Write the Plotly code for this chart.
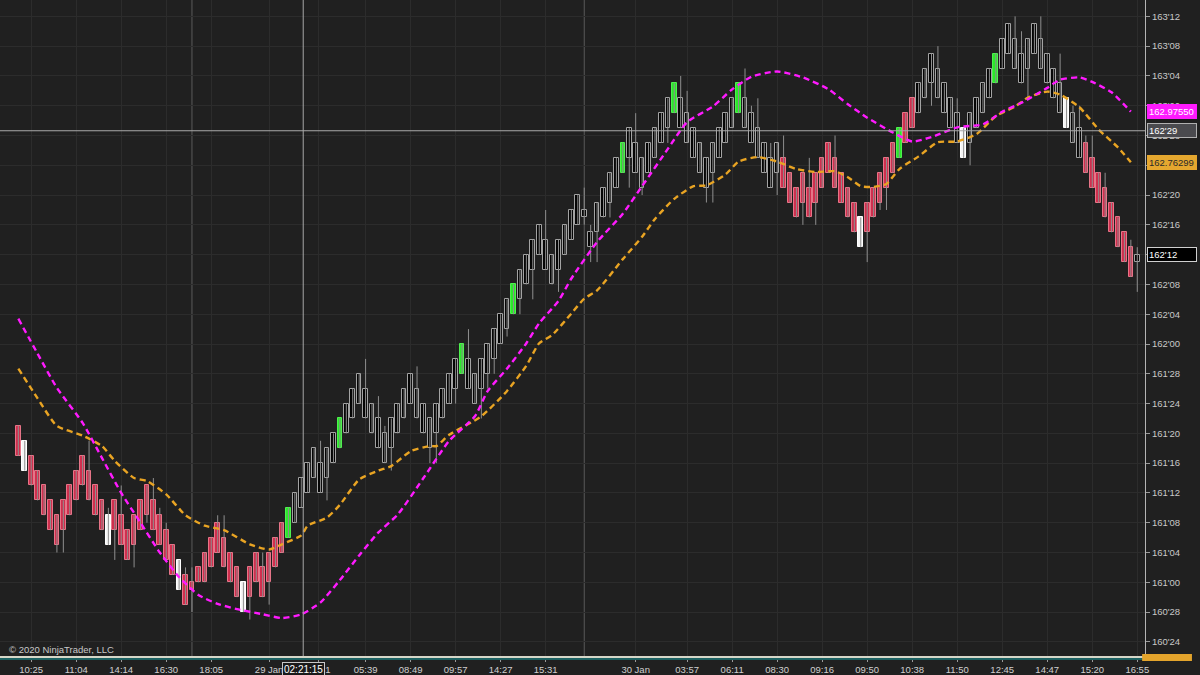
import plotly.graph_objects as go

# ---------------- data (prices in 32nds of a point) ----------------
body_top_32 = [
    5173, 5171, 5169, 5167, 5165, 5163, 5161, 5163, 5165, 5167,
    5169, 5167, 5165, 5163, 5161, 5163, 5161, 5159, 5161, 5163,
    5165, 5163, 5161, 5159, 5157, 5155, 5153, 5152, 5154, 5156,
    5158, 5160, 5158, 5156, 5154, 5152, 5154, 5156, 5154, 5156,
    5158, 5160, 5162, 5164, 5166, 5168, 5170, 5168, 5170, 5172,
    5174, 5176, 5178, 5180, 5178, 5176, 5174, 5172, 5174, 5176,
    5178, 5180, 5178, 5176, 5174, 5176, 5178, 5180, 5182, 5184,
    5182, 5180, 5182, 5184, 5186, 5188, 5190, 5192, 5194, 5196,
    5198, 5200, 5198, 5196, 5198, 5200, 5202, 5204, 5202, 5199,
    5203, 5205, 5207, 5209, 5211, 5213, 5211, 5209, 5211, 5213,
    5215, 5217, 5219, 5217, 5215, 5213, 5211, 5209, 5211, 5213,
    5215, 5217, 5219, 5217, 5215, 5213, 5211, 5209, 5211, 5209,
    5207, 5205, 5207, 5205, 5207, 5209, 5211, 5209, 5207, 5205,
    5203, 5201, 5203, 5205, 5207, 5209, 5211, 5213, 5215, 5217,
    5219, 5221, 5223, 5221, 5219, 5217, 5215, 5213, 5215, 5217,
    5219, 5221, 5223, 5225, 5227, 5225, 5223, 5225, 5227, 5225,
    5223, 5221, 5219, 5217, 5215, 5213, 5211, 5209, 5207, 5205,
    5203, 5201, 5199, 5197, 5196,
]
body_bottom_32 = [
    5169, 5167, 5165, 5163, 5161, 5159, 5157, 5159, 5161, 5163,
    5165, 5163, 5161, 5159, 5157, 5159, 5157, 5155, 5157, 5159,
    5161, 5159, 5157, 5155, 5153, 5151, 5149, 5151, 5152, 5152,
    5154, 5156, 5154, 5152, 5150, 5148, 5150, 5152, 5150, 5152,
    5154, 5156, 5158, 5160, 5162, 5164, 5166, 5164, 5166, 5168,
    5170, 5172, 5174, 5176, 5174, 5172, 5170, 5168, 5170, 5172,
    5174, 5176, 5174, 5172, 5170, 5172, 5174, 5176, 5178, 5180,
    5178, 5176, 5178, 5180, 5182, 5184, 5186, 5188, 5190, 5192,
    5194, 5196, 5194, 5192, 5194, 5196, 5198, 5200, 5201, 5197,
    5199, 5201, 5203, 5205, 5207, 5209, 5207, 5205, 5207, 5209,
    5211, 5213, 5215, 5213, 5211, 5209, 5207, 5205, 5207, 5209,
    5211, 5213, 5215, 5213, 5211, 5209, 5207, 5205, 5207, 5205,
    5203, 5201, 5203, 5201, 5203, 5205, 5207, 5205, 5203, 5201,
    5199, 5197, 5199, 5201, 5203, 5205, 5207, 5209, 5211, 5213,
    5215, 5217, 5219, 5217, 5215, 5213, 5211, 5209, 5211, 5213,
    5215, 5217, 5219, 5221, 5223, 5221, 5219, 5221, 5223, 5221,
    5219, 5217, 5215, 5213, 5211, 5209, 5207, 5205, 5203, 5201,
    5199, 5197, 5195, 5193, 5195,
]
high_32 = [
    5173, 5171, 5169, 5167, 5165, 5163, 5161, 5163, 5165, 5167,
    5169, 5171, 5165, 5163, 5162, 5163, 5165, 5159, 5161, 5163,
    5165, 5166, 5162, 5160, 5157, 5155, 5154, 5154, 5154, 5156,
    5158, 5161, 5161, 5156, 5154, 5152, 5154, 5156, 5156, 5156,
    5158, 5160, 5162, 5164, 5166, 5168, 5170, 5171, 5170, 5172,
    5174, 5176, 5178, 5180, 5182, 5176, 5177, 5173, 5174, 5176,
    5178, 5180, 5181, 5176, 5174, 5176, 5178, 5180, 5182, 5184,
    5186, 5180, 5182, 5184, 5186, 5188, 5190, 5192, 5194, 5196,
    5198, 5200, 5202, 5196, 5198, 5200, 5202, 5204, 5205, 5200,
    5203, 5205, 5207, 5209, 5211, 5213, 5215, 5209, 5211, 5213,
    5215, 5217, 5219, 5220, 5218, 5213, 5211, 5209, 5211, 5213,
    5215, 5217, 5219, 5221, 5216, 5217, 5211, 5211, 5211, 5212,
    5207, 5205, 5207, 5209, 5207, 5209, 5211, 5212, 5207, 5205,
    5203, 5201, 5203, 5205, 5207, 5209, 5211, 5213, 5215, 5217,
    5219, 5221, 5223, 5224, 5219, 5217, 5217, 5213, 5215, 5217,
    5219, 5221, 5223, 5225, 5227, 5228, 5226, 5225, 5227, 5228,
    5223, 5221, 5223, 5217, 5216, 5216, 5212, 5212, 5207, 5207,
    5203, 5201, 5199, 5198, 5197,
]
low_32 = [
    5169, 5167, 5165, 5163, 5161, 5159, 5156, 5156, 5161, 5163,
    5165, 5163, 5161, 5159, 5157, 5155, 5157, 5155, 5154, 5159,
    5160, 5159, 5157, 5155, 5153, 5151, 5149, 5148, 5152, 5152,
    5154, 5156, 5154, 5152, 5150, 5148, 5147, 5152, 5150, 5149,
    5154, 5156, 5158, 5160, 5162, 5164, 5166, 5164, 5163, 5168,
    5170, 5172, 5174, 5176, 5174, 5172, 5170, 5168, 5167, 5172,
    5174, 5176, 5174, 5172, 5168, 5168, 5174, 5176, 5176, 5180,
    5178, 5176, 5174, 5178, 5180, 5184, 5185, 5188, 5188, 5192,
    5190, 5196, 5194, 5192, 5191, 5196, 5198, 5200, 5200, 5195,
    5195, 5201, 5201, 5205, 5207, 5205, 5207, 5204, 5207, 5209,
    5211, 5211, 5215, 5213, 5211, 5209, 5207, 5203, 5203, 5209,
    5211, 5213, 5215, 5213, 5211, 5209, 5207, 5205, 5204, 5205,
    5203, 5201, 5200, 5201, 5200, 5205, 5207, 5205, 5203, 5201,
    5199, 5197, 5195, 5201, 5202, 5202, 5207, 5209, 5211, 5213,
    5215, 5217, 5216, 5217, 5215, 5213, 5211, 5209, 5208, 5213,
    5215, 5217, 5219, 5221, 5223, 5221, 5219, 5217, 5223, 5221,
    5219, 5217, 5215, 5213, 5211, 5209, 5207, 5205, 5203, 5201,
    5199, 5197, 5195, 5193, 5191,
]
# bar paint state: R = bearish trend, H = bullish trend (hollow), G = buy signal, W = sell signal
bar_state_runs = [
    ("R", 1), ("W", 1), ("R", 12), ("W", 1), ("R", 10), ("W", 1), ("R", 9), ("W", 1),
    ("R", 6), ("G", 1), ("H", 7), ("G", 1), ("H", 18), ("G", 1), ("H", 7), ("G", 1),
    ("H", 16), ("G", 1), ("H", 7), ("G", 1), ("H", 9), ("G", 1), ("H", 6), ("R", 12),
    ("W", 1), ("R", 5), ("G", 1), ("R", 2), ("H", 7), ("W", 1), ("H", 4), ("G", 1),
    ("H", 10), ("W", 1), ("H", 2), ("R", 8), ("H", 1),
]

magenta_idx = [0, 3, 6, 10, 13, 16, 19, 22, 25, 28, 31, 34, 38, 41, 44, 47, 50, 53, 56, 59,
               63, 67, 71, 73, 76, 79, 81, 84, 86, 90, 94, 97, 101, 104, 108, 111, 114, 118,
               122, 126, 129, 132, 136, 139, 142, 146, 150, 153, 156, 160, 162, 165, 167, 170, 173]
magenta_32 = [5187.4, 5182.7, 5178.1, 5173.4, 5168.7, 5164.0, 5160.0, 5156.0, 5152.7, 5150.3,
              5149.1, 5148.4, 5147.7, 5147.2, 5147.7, 5149.3, 5152.3, 5155.6, 5158.7, 5161.1,
              5166.0, 5171.0, 5174.3, 5177.7, 5180.7, 5184.1, 5186.8, 5189.8, 5192.8, 5197.7,
              5201.5, 5205.2, 5210.2, 5213.8, 5215.9, 5218.2, 5219.9, 5220.6, 5219.8, 5218.2,
              5216.2, 5214.4, 5212.4, 5211.2, 5211.8, 5213.1, 5213.5, 5215.2, 5216.4, 5218.4,
              5219.5, 5219.8, 5219.2, 5217.8, 5215.2]
orange_idx = [0, 3, 6, 10, 13, 15, 18, 20, 23, 26, 29, 32, 36, 39, 41, 44, 45, 48, 50, 53,
              56, 58, 61, 64, 65, 67, 72, 76, 79, 81, 83, 86, 88, 90, 94, 97, 99, 102, 105, 107,
              110, 112, 115, 118, 121, 124, 127, 129, 131, 133, 135, 137, 140, 143, 146, 149,
              152, 155, 157, 160, 162, 165, 168, 171, 173]
orange_32 = [5180.7, 5176.7, 5173.0, 5171.7, 5170.3, 5168.3, 5166.0, 5165.6, 5163.8, 5161.0,
             5159.6, 5159.0, 5157.1, 5156.4, 5157.1, 5158.3, 5159.6, 5160.7, 5162.4, 5165.8,
             5167.0, 5167.6, 5169.6, 5170.3, 5170.3, 5171.8, 5174.3, 5177.7, 5181.1, 5184.1,
             5185.2, 5188.1, 5190.1, 5191.2, 5195.4, 5198.4, 5200.8, 5203.5, 5205.2, 5205.3,
             5206.8, 5208.5, 5209.1, 5208.5, 5207.5, 5207.1, 5207.2, 5206.4, 5205.2, 5205.1,
             5205.5, 5207.5, 5209.2, 5211.1, 5211.2, 5212.2, 5214.6, 5215.9, 5217.1, 5217.9,
             5217.5, 5215.8, 5212.8, 5210.4, 5208.4]

x_tick_idx = [2, 9, 16, 23, 30, 39, 46.7, 54, 61, 68, 75, 82, 96, 104, 111, 118, 125, 132,
              139, 146, 153, 160, 167, 174]
x_tick_labels = ["10:25", "11:04", "14:14", "16:30", "18:05", "29 Jan", "01:31", "05:39",
                 "08:49", "09:57", "14:27", "15:31", "30 Jan", "03:57", "06:11", "08:30",
                 "09:16", "09:50", "10:38", "11:50", "12:45", "14:47", "15:20", "16:55"]
y_tick_labels = ["160'24", "160'28", "161'00", "161'04", "161'08", "161'12", "161'16",
                 "161'20", "161'24", "161'28", "162'00", "162'04", "162'08", "162'12",
                 "162'16", "162'20", "162'24", "162'28", "163'00", "163'04", "163'08", "163'12"]

session_break_idx = [27, 88]
crosshair_idx = 44.3
crosshair_price = 162.895
crosshair_time = "02:21:15"
crosshair_price_label = "162'29"
magenta_last = 162.97550
orange_last = 162.76299
last_price_32 = 5196
last_price_label = "162'12"
copyright_text = "© 2020 NinjaTrader, LLC"

# ---------------- build ----------------
FONT = "Arial, Liberation Sans, sans-serif"
BG = "#202020"
n = len(body_top_32)
idx = list(range(n))
states = []
for s, c in bar_state_runs:
    states += [s] * c
states = (states + ["H"] * n)[:n]

fill_map = {"R": "#cf2f4e", "H": "#050505", "G": "#2be82b", "W": "#f5f5f5"}
line_map = {"R": "#e67588", "H": "#a3a3a3", "G": "#4ff04f", "W": "#ffffff"}

fig = go.Figure()

# wicks
wx, wy = [], []
for i in idx:
    wx += [i, i, None]
    wy += [low_32[i] / 32, high_32[i] / 32, None]
fig.add_trace(go.Scatter(x=wx, y=wy, mode="lines", line=dict(color="#8e8e8e", width=1),
                         hoverinfo="skip", showlegend=False))

# bodies
fig.add_trace(go.Bar(
    x=idx,
    y=[(t - b) / 32 for t, b in zip(body_top_32, body_bottom_32)],
    base=[b / 32 for b in body_bottom_32],
    width=0.72,
    marker=dict(color=[fill_map[s] for s in states],
                line=dict(color=[line_map[s] for s in states], width=1)),
    hoverinfo="skip", showlegend=False))

# moving averages
fig.add_trace(go.Scatter(x=orange_idx, y=[v / 32 for v in orange_32], mode="lines",
                         line=dict(color="#e9a423", width=2.4, dash="6px,4px", shape="spline", smoothing=0.6),
                         hoverinfo="skip", showlegend=False))
fig.add_trace(go.Scatter(x=magenta_idx, y=[v / 32 for v in magenta_32], mode="lines",
                         line=dict(color="#ff1aff", width=2.4, dash="6px,4px", shape="spline", smoothing=0.6),
                         hoverinfo="skip", showlegend=False))

def parse_32(lbl):
    a, b = lbl.split("'")
    return int(a) + int(b) / 32

y_tick_vals = [parse_32(l) for l in y_tick_labels]

shapes = []
for s in session_break_idx:
    shapes.append(dict(type="line", xref="x", yref="paper", x0=s, x1=s, y0=0, y1=1,
                       line=dict(color="#5a5a5a", width=1), layer="below"))
# crosshair
shapes.append(dict(type="line", xref="x", yref="paper", x0=crosshair_idx, x1=crosshair_idx,
                   y0=0, y1=1, line=dict(color="#a8a8a8", width=1)))
shapes.append(dict(type="line", xref="paper", yref="y", x0=0, x1=1, y0=crosshair_price,
                   y1=crosshair_price, line=dict(color="#a8a8a8", width=1)))
# scrollbar strip under axis
shapes.append(dict(type="line", xref="paper", yref="paper", x0=0, x1=1, y0=-0.0045, y1=-0.0045,
                   line=dict(color="#1d6262", width=2)))
shapes.append(dict(type="rect", xref="paper", yref="paper", x0=0.9975, x1=1.041, y0=-0.0076, y1=0.003,
                   fillcolor="#e3a42c", line=dict(width=0)))

annotations = []
def tag(y, text, bg, fg, border):
    annotations.append(dict(xref="paper", yref="y", x=1, y=y, xanchor="left", yanchor="middle",
                            xshift=2, text=text, showarrow=False, bgcolor=bg, bordercolor=border,
                            borderwidth=1, borderpad=1, width=46, align="left",
                            font=dict(family=FONT, size=9.5, color=fg)))

tag(magenta_last, f"{magenta_last:.5f}", "#ff1aff", "#ffffff", "#ff1aff")
tag(crosshair_price, crosshair_price_label, "#4a4a4e", "#ffffff", "#b0b0b0")
tag(orange_last, f"{orange_last:.5f}", "#e5a72f", "#2a2a2a", "#e5a72f")
tag(last_price_32 / 32, last_price_label, "#000000", "#ffffff", "#d0d0d0")

annotations.append(dict(xref="x", yref="paper", x=crosshair_idx, y=0, yanchor="top", yshift=-6,
                        text=crosshair_time, showarrow=False, bgcolor="#1a1a1a",
                        bordercolor="#c8c8c8", borderwidth=1, borderpad=1,
                        font=dict(family=FONT, size=10, color="#ffffff")))
annotations.append(dict(xref="paper", yref="paper", x=0, y=0, xanchor="left", yanchor="middle",
                        xshift=7, yshift=7, text=copyright_text, showarrow=False,
                        font=dict(family=FONT, size=9.5, color="#c8c8c8")))

fig.update_layout(
    width=1200, height=675,
    margin=dict(l=0, r=55, t=0, b=16),
    paper_bgcolor=BG, plot_bgcolor=BG,
    showlegend=False, bargap=0,
    font=dict(family=FONT, color="#d0d0d0", size=10),
    shapes=shapes, annotations=annotations,
    xaxis=dict(range=[-2.85, 175.2], tickmode="array", tickvals=x_tick_idx, ticktext=x_tick_labels,
               showgrid=True, gridcolor="#2c2c2c", gridwidth=1, zeroline=False,
               showline=True, linecolor="#d6d6c8", linewidth=1.5,
               ticks="outside", ticklen=4, tickcolor="#9a9a9a",
               tickfont=dict(family=FONT, size=9.5, color="#d0d0d0"), fixedrange=True),
    yaxis=dict(side="right", range=[5142.1 / 32, 5230.2 / 32], tickmode="array",
               tickvals=y_tick_vals, ticktext=y_tick_labels,
               showgrid=True, gridcolor="#2c2c2c", gridwidth=1, zeroline=False,
               showline=True, linecolor="#b4b4b4", linewidth=1,
               ticks="outside", ticklen=4, tickcolor="#9a9a9a",
               tickfont=dict(family=FONT, size=9.5, color="#c8c8c8"), fixedrange=True),
)

fig.write_html(
    "out.html",
    config={"displayModeBar": False},
    post_script="document.body.style.margin='0';document.body.style.overflow='hidden';"
                "document.body.style.background='" + BG + "';",
)
